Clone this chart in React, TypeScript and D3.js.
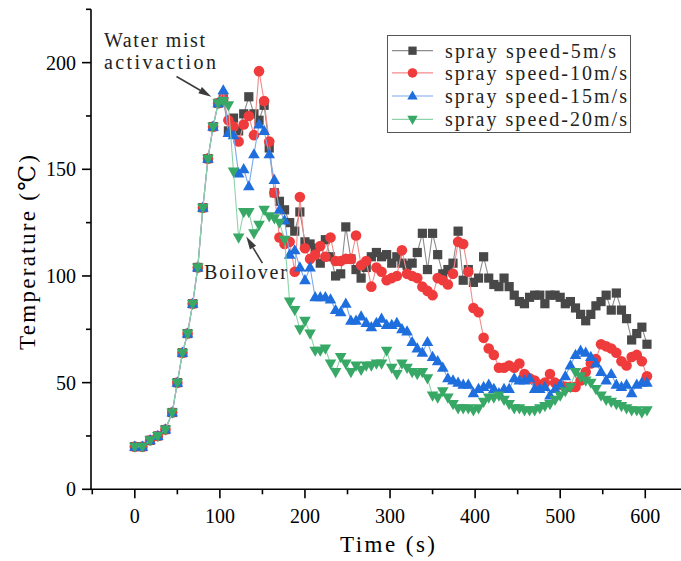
import React from "react";
import * as d3 from "d3";

const time = [
  0, 9, 18, 27, 36, 44, 50, 56, 62, 68,
  74, 80, 86, 92, 98, 104, 110, 116, 122, 128,
  134, 140, 146, 152, 158, 164, 170, 176, 182, 188,
  194, 200, 206, 212, 218, 224, 230, 236, 242, 248,
  254, 260, 266, 272, 278, 284, 290, 296, 302, 308,
  314, 320, 326, 332, 338, 344, 350, 356, 362, 368,
  374, 380, 386, 392, 398, 404, 410, 416, 422, 428,
  434, 440, 446, 452, 458, 464, 470, 476, 482, 488,
  494, 500, 506, 512, 518, 524, 530, 536, 542, 548,
  554, 560, 566, 572, 578, 584, 590, 596, 602,
];

// shared heating phase (identical for all sprays before activation)
const riseTemp = [20, 20, 23, 25, 28, 36, 50, 64, 73, 87, 104, 132, 155, 170, 181];

const speed5 = [
  183, 168, 174, 168, 176, 184, 176, 173, 180, 160,
  139, 135, 131, 125, 121, 130, 116, 115, 113, 106,
  117, 109, 100, 101, 123, 108, 103, 99, 104, 109,
  111, 109, 110, 106, 109, 106, 105, 106, 111, 120,
  103, 120, 110, 101, 103, 106, 121, 98, 103, 97,
  99, 109, 99, 96, 95, 99, 95, 91, 88, 87,
  90, 91, 91, 87, 91, 91, 90, 87, 88, 85,
  82, 79, 82, 86, 88, 91, 84, 92, 84, 80,
  70, 73, 76, 68,
];
const speed10 = [
  183, 173, 170, 163, 171, 175, 166, 196, 182, 163,
  139, 118, 115, 116, 102, 137, 113, 108, 110, 114,
  109, 118, 107, 107, 108, 108, 119, 105, 107, 95,
  104, 102, 98, 99, 100, 112, 101, 100, 99, 95,
  93, 91, 99, 98, 96, 101, 116, 115, 102, 85,
  83, 71, 66, 63, 57, 57, 58, 57, 59, 54,
  52, 51, 49, 50, 54, 50, 49, 48, 48, 48,
  51, 55, 59, 61, 68, 67, 66, 64, 60, 58,
  62, 63, 60, 53,
];
const speed15 = [
  187, 167, 166, 148, 150, 142, 157, 171, 168, 157,
  145, 131, 126, 110, 112, 104, 98, 104, 90, 90,
  90, 89, 84, 83, 87, 79, 79, 81, 78, 76,
  78, 80, 77, 77, 78, 75, 74, 69, 66, 64,
  69, 62, 60, 57, 52, 51, 50, 49, 49, 45,
  47, 48, 49, 47, 45, 47, 47, 52, 51, 51,
  52, 47, 47, 48, 44, 47, 49, 53, 58, 63,
  65, 64, 62, 59, 55, 51, 54, 49, 48, 49,
  45, 49, 50, 50,
];
const speed20 = [
  182, 180, 149, 118, 130, 130, 120, 124, 131, 128,
  127, 125, 117, 88, 84, 75, 79, 73, 65, 65,
  66, 59, 55, 62, 59, 55, 58, 56, 58, 58,
  59, 59, 65, 57, 54, 59, 57, 55, 54, 55,
  52, 44, 43, 46, 43, 40, 38, 38, 38, 37,
  38, 41, 43, 43, 44, 42, 40, 38, 38, 37,
  37, 37, 38, 39, 40, 42, 44, 46, 48, 55,
  53, 51, 50, 47, 44, 42, 41, 40, 39, 38,
  37, 37, 36, 37,
];

const seriesNames = [
  "spray speed-5m/s",
  "spray speed-10m/s",
  "spray speed-15m/s",
  "spray speed-20m/s",
];
const xTicks = [0, 100, 200, 300, 400, 500, 600];
const xMinorTicks = [-50, 50, 150, 250, 350, 450, 550];
const yTicks = [0, 50, 100, 150, 200];
const yMinorTicks = [25, 75, 125, 175, 225];

const W = 681;
const H = 561;
const x = d3.scaleLinear().domain([-51.5, 642]).range([91, 681]);
const y = d3.scaleLinear().domain([0, 225]).range([489.3, 9.3]);

const styles = [
  { marker: "square", fill: "#484848", line: "#8c8c8c" },
  { marker: "circle", fill: "#EF3B3B", line: "#F58A8A" },
  { marker: "up", fill: "#1F6EDD", line: "#7BA9EE" },
  { marker: "down", fill: "#37A865", line: "#8DD3AA" },
];

const serifFont = "'Liberation Serif', 'DejaVu Serif', serif";

function Marker({ kind, cx, cy, fill, s = 1 }: { kind: string; cx: number; cy: number; fill: string; s?: number }) {
  if (kind === "square")
    return <rect x={cx - 4.6 * s} y={cy - 4.6 * s} width={9.2 * s} height={9.2 * s} fill={fill} />;
  if (kind === "circle") return <circle cx={cx} cy={cy} r={5.3 * s} fill={fill} />;
  if (kind === "up")
    return (
      <path
        d={`M${cx},${cy - 6.2 * s}L${cx + 5.8 * s},${cy + 4 * s}L${cx - 5.8 * s},${cy + 4 * s}Z`}
        fill={fill}
      />
    );
  return (
    <path
      d={`M${cx},${cy + 6.2 * s}L${cx + 5.8 * s},${cy - 4 * s}L${cx - 5.8 * s},${cy - 4 * s}Z`}
      fill={fill}
    />
  );
}

function Arrow({ x1, y1, x2, y2 }: { x1: number; y1: number; x2: number; y2: number }) {
  const dx = x2 - x1;
  const dy = y2 - y1;
  const len = Math.hypot(dx, dy);
  const ux = dx / len;
  const uy = dy / len;
  const hl = 13;
  const hw = 3.6;
  const bx = x2 - ux * hl;
  const by = y2 - uy * hl;
  return (
    <g fill="#3c3c3c" stroke="#3c3c3c">
      <line x1={x1} y1={y1} x2={bx} y2={by} strokeWidth={1.6} />
      <path
        d={`M${x2},${y2}L${bx - uy * hw},${by + ux * hw}L${bx + uy * hw},${by - ux * hw}Z`}
        stroke="none"
      />
    </g>
  );
}

export default function App() {
  const allSeries = [speed5, speed10, speed15, speed20].map((s) => [...riseTemp, ...s]);
  const lineGen = d3
    .line<[number, number]>()
    .x((d) => x(d[0]))
    .y((d) => y(d[1]));

  const legendRows = [50.7, 72.9, 96, 119.3];
  const legendLen = [171, 182, 182, 182];

  return (
    <svg width={W} height={H} style={{ position: "absolute", left: 0, top: 0, background: "#fff" }}>
      <rect x={0} y={0} width={W} height={H} fill="#fff" />
      {/* series */}
      {allSeries.map((vals, si) => {
        const pts: [number, number][] = time.map((t, i) => [t, vals[i]]);
        return (
          <g key={si}>
            <path d={lineGen(pts) || ""} fill="none" stroke={styles[si].line} strokeWidth={1.1} />
            {pts.map((p, i) => (
              <Marker key={i} kind={styles[si].marker} cx={x(p[0])} cy={y(p[1])} fill={styles[si].fill} />
            ))}
          </g>
        );
      })}

      {/* axes */}
      <g stroke="#000" strokeWidth={1.6}>
        <line x1={x.range()[0]} y1={y(0)} x2={W} y2={y(0)} />
        <line x1={x.range()[0]} y1={y.range()[1]} x2={x.range()[0]} y2={y(0)} />
        {xTicks.map((t) => (
          <line key={"xt" + t} x1={x(t)} x2={x(t)} y1={y(0)} y2={y(0) + 9} />
        ))}
        {xMinorTicks.map((t) => (
          <line key={"xm" + t} x1={x(t)} x2={x(t)} y1={y(0)} y2={y(0) + 5} />
        ))}
        {yTicks.map((t) => (
          <line key={"yt" + t} x1={x.range()[0] - 9} x2={x.range()[0]} y1={y(t)} y2={y(t)} />
        ))}
        {yMinorTicks.map((t) => (
          <line key={"ym" + t} x1={x.range()[0] - 5} x2={x.range()[0]} y1={y(t)} y2={y(t)} />
        ))}
      </g>
      <g fontFamily={serifFont} fontSize={20} fill="#000">
        {xTicks.map((t) => (
          <text key={"xl" + t} x={x(t)} y={523} textAnchor="middle">
            {t}
          </text>
        ))}
        {yTicks.map((t) => (
          <text key={"yl" + t} x={76} y={y(t) + 7} textAnchor="end">
            {t}
          </text>
        ))}
      </g>
      <text
        x={340}
        y={552}
        fontFamily={serifFont}
        fontSize={23}
        textLength={95}
        lengthAdjust="spacing"
        fill="#000"
      >
        Time (s)
      </text>
      <text
        transform="translate(35,350) rotate(-90)"
        fontFamily={serifFont}
        fontSize={23}
        textLength={195}
        lengthAdjust="spacing"
        fill="#000"
      >
        Temperature (℃)
      </text>

      {/* annotations */}
      <g fontFamily={serifFont} fontSize={20} fill="#222">
        <text x={104} y={47} textLength={101} lengthAdjust="spacing">
          Water mist
        </text>
        <text x={104} y={69} textLength={112} lengthAdjust="spacing">
          activaction
        </text>
        <text x={204} y={279} textLength={83} lengthAdjust="spacing">
          Boilover
        </text>
      </g>
      <Arrow x1={x(49)} y1={y(193.5)} x2={x(90)} y2={y(184)} />
      <Arrow x1={x(150)} y1={y(106)} x2={x(131)} y2={y(118.5)} />

      {/* legend */}
      <rect x={387.5} y={35.5} width={243} height={97} fill="#fff" stroke="#555" strokeWidth={1} />
      {seriesNames.map((name, i) => (
        <g key={name}>
          <line x1={392} x2={433} y1={legendRows[i]} y2={legendRows[i]} stroke={styles[i].line} strokeWidth={1.2} />
          <Marker kind={styles[i].marker} cx={412.5} cy={legendRows[i]} fill={styles[i].fill} s={0.9} />
          <text
            x={445}
            y={legendRows[i] + 7}
            fontFamily={serifFont}
            fontSize={20}
            textLength={legendLen[i]}
            lengthAdjust="spacing"
            fill="#222"
          >
            {name}
          </text>
        </g>
      ))}
    </svg>
  );
}
